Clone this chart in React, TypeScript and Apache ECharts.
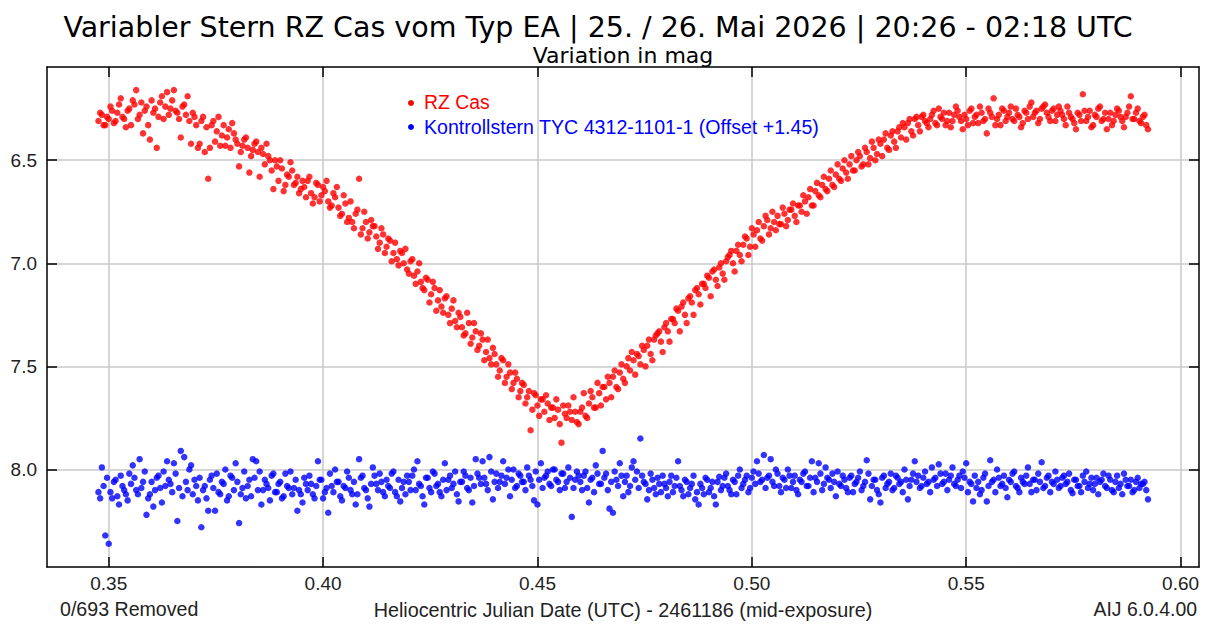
import React, { useEffect, useRef } from "react";
import * as echarts from "echarts";

// Heliocentric Julian Date (UTC) - 2461186, mid-exposure times (frames A)
const hjdA = [
  0.3476, 0.3484, 0.3492, 0.3500, 0.3508, 0.3516, 0.3524, 0.3532, 0.3540, 0.3548,
  0.3556, 0.3564, 0.3572, 0.3580, 0.3588, 0.3596, 0.3604, 0.3612, 0.3620, 0.3628,
  0.3636, 0.3644, 0.3652, 0.3660, 0.3668, 0.3676, 0.3684, 0.3692, 0.3700, 0.3708,
  0.3716, 0.3724, 0.3732, 0.3740, 0.3748, 0.3756, 0.3764, 0.3772, 0.3780, 0.3788,
  0.3796, 0.3804, 0.3812, 0.3820, 0.3828, 0.3836, 0.3844, 0.3852, 0.3860, 0.3868,
  0.3876, 0.3884, 0.3892, 0.3900, 0.3908, 0.3916, 0.3924, 0.3932, 0.3940, 0.3948,
  0.3956, 0.3964, 0.3972, 0.3980, 0.3988, 0.3996, 0.4004, 0.4012, 0.4020, 0.4028,
  0.4036, 0.4044, 0.4052, 0.4060, 0.4068, 0.4076, 0.4084, 0.4092, 0.4100, 0.4108,
  0.4116, 0.4124, 0.4132, 0.4140, 0.4148, 0.4156, 0.4164, 0.4172, 0.4180, 0.4188,
  0.4196, 0.4204, 0.4212, 0.4220, 0.4228, 0.4236, 0.4244, 0.4252, 0.4260, 0.4268,
  0.4276, 0.4284, 0.4292, 0.4300, 0.4308, 0.4316, 0.4324, 0.4332, 0.4340, 0.4348,
  0.4356, 0.4364, 0.4372, 0.4380, 0.4388, 0.4396, 0.4404, 0.4412, 0.4420, 0.4428,
  0.4436, 0.4444, 0.4452, 0.4460, 0.4468, 0.4476, 0.4484, 0.4492, 0.4500, 0.4508,
  0.4516, 0.4524, 0.4532, 0.4540, 0.4548, 0.4556, 0.4564, 0.4572, 0.4580, 0.4588,
  0.4596, 0.4604, 0.4612, 0.4620, 0.4628, 0.4636, 0.4644, 0.4652, 0.4660, 0.4668,
  0.4676, 0.4684, 0.4692, 0.4700, 0.4708, 0.4716, 0.4724, 0.4732, 0.4740, 0.4748,
  0.4756, 0.4764, 0.4772, 0.4780, 0.4788, 0.4796, 0.4804, 0.4812, 0.4820, 0.4828,
  0.4836, 0.4844, 0.4852, 0.4860, 0.4868, 0.4876, 0.4884, 0.4892, 0.4900, 0.4908,
  0.4916, 0.4924, 0.4932, 0.4940, 0.4948, 0.4956, 0.4964, 0.4972, 0.4980, 0.4988,
  0.4996, 0.5004, 0.5012, 0.5020, 0.5028, 0.5036, 0.5044, 0.5052, 0.5060, 0.5068,
  0.5076, 0.5084, 0.5092, 0.5100, 0.5108, 0.5116, 0.5124, 0.5132, 0.5140, 0.5148,
  0.5156, 0.5164, 0.5172, 0.5180, 0.5188, 0.5196, 0.5204, 0.5212, 0.5220, 0.5228,
  0.5236, 0.5244, 0.5252, 0.5260, 0.5268, 0.5276, 0.5284, 0.5292, 0.5300, 0.5308,
  0.5316, 0.5324, 0.5332, 0.5340, 0.5348, 0.5356, 0.5364, 0.5372, 0.5380, 0.5388,
  0.5396, 0.5404, 0.5412, 0.5420, 0.5428, 0.5436, 0.5444, 0.5452, 0.5460, 0.5468,
  0.5476, 0.5484, 0.5492, 0.5500, 0.5508, 0.5516, 0.5524, 0.5532, 0.5540, 0.5548,
  0.5556, 0.5564, 0.5572, 0.5580, 0.5588, 0.5596, 0.5604, 0.5612, 0.5620, 0.5628,
  0.5636, 0.5644, 0.5652, 0.5660, 0.5668, 0.5676, 0.5684, 0.5692, 0.5700, 0.5708,
  0.5716, 0.5724, 0.5732, 0.5740, 0.5748, 0.5756, 0.5764, 0.5772, 0.5780, 0.5788,
  0.5796, 0.5804, 0.5812, 0.5820, 0.5828, 0.5836, 0.5844, 0.5852, 0.5860, 0.5868,
  0.5876, 0.5884, 0.5892, 0.5900, 0.5908, 0.5916, 0.5924,
];

// RZ Cas magnitudes (frames A)
const rzCasA = [
  6.31, 6.28, 6.33, 6.30, 6.26, 6.31, 6.23, 6.29, 6.34, 6.25,
  6.21, 6.16, 6.28, 6.37, 6.24, 6.40, 6.27, 6.44, 6.22, 6.30,
  6.17, 6.25, 6.16, 6.27, 6.39, 6.23, 6.19, 6.42, 6.29, 6.44,
  6.31, 6.46, 6.59, 6.33, 6.41, 6.29, 6.38, 6.43, 6.35, 6.32,
  6.40, 6.53, 6.43, 6.39, 6.56, 6.45, 6.41, 6.58, 6.47, 6.42,
  6.50, 6.64, 6.53, 6.50, 6.65, 6.57, 6.51, 6.62, 6.58, 6.64,
  6.63, 6.60, 6.66, 6.68, 6.62, 6.67, 6.65, 6.70, 6.72, 6.68,
  6.73, 6.76, 6.71, 6.78, 6.80, 6.76, 6.59, 6.83, 6.80, 6.85,
  6.82, 6.87, 6.90, 6.86, 6.92, 6.89, 6.95, 6.98, 6.94, 7.00,
  7.03, 6.99, 7.06, 7.04, 7.09, 7.13, 7.08, 7.15, 7.12, 7.18,
  7.21, 7.17, 7.25, 7.22, 7.28, 7.24, 7.31, 7.34, 7.29, 7.36,
  7.33, 7.40, 7.37, 7.43, 7.46, 7.41, 7.49, 7.52, 7.47, 7.55,
  7.53, 7.58, 7.56, 7.62, 7.59, 7.65, 7.81, 7.63, 7.69, 7.66,
  7.72, 7.68, 7.70, 7.75, 7.71, 7.87, 7.73, 7.69, 7.76, 7.72,
  7.78, 7.70, 7.74, 7.68, 7.65, 7.70, 7.63, 7.60, 7.66, 7.58,
  7.55, 7.60, 7.53, 7.56, 7.50, 7.52, 7.47, 7.44, 7.49, 7.42,
  7.40, 7.44, 7.37, 7.34, 7.38, 7.31, 7.33, 7.27, 7.29, 7.23,
  7.21, 7.25, 7.17, 7.19, 7.13, 7.15, 7.10, 7.12, 7.07, 7.04,
  7.08, 7.02, 7.05, 6.99, 6.96, 7.00, 6.94, 6.96, 6.91, 6.88,
  6.92, 6.86, 6.84, 6.88, 6.82, 6.79, 6.83, 6.80, 6.77, 6.81,
  6.76, 6.79, 6.74, 6.77, 6.72, 6.75, 6.70, 6.68, 6.72, 6.65,
  6.67, 6.62, 6.64, 6.59, 6.62, 6.57, 6.59, 6.54, 6.56, 6.52,
  6.55, 6.50, 6.48, 6.52, 6.46, 6.49, 6.44, 6.47, 6.42, 6.40,
  6.44, 6.38, 6.41, 6.36, 6.39, 6.34, 6.32, 6.36, 6.30, 6.33,
  6.29, 6.31, 6.34, 6.28, 6.32, 6.25, 6.30, 6.33, 6.27, 6.31,
  6.24, 6.29, 6.35, 6.30, 6.26, 6.32, 6.28, 6.24, 6.31, 6.37,
  6.27, 6.20, 6.30, 6.33, 6.26, 6.29, 6.24, 6.31, 6.28, 6.34,
  6.26, 6.30, 6.22, 6.27, 6.32, 6.25, 6.23, 6.29, 6.26, 6.31,
  6.24, 6.28, 6.33, 6.27, 6.30, 6.35, 6.28, 6.18, 6.31, 6.26,
  6.33, 6.29, 6.24, 6.30, 6.35, 6.27, 6.31, 6.25, 6.29, 6.34,
  6.27, 6.19, 6.30, 6.25, 6.32, 6.28, 6.35,
];

// Check star TYC 4312-1101-1 magnitudes, offset +1.45 (frames A)
const checkStarA = [
  8.11, 7.99, 8.32, 8.36, 8.14, 8.05, 8.17, 8.08, 8.12, 8.02,
  7.98, 8.10, 7.95, 8.06, 8.22, 8.12, 8.18, 8.04, 8.09, 8.01,
  7.96, 8.07, 7.97, 8.25, 7.91, 7.94, 8.10, 7.98, 8.05, 8.15,
  8.28, 8.08, 8.20, 8.03, 8.20, 8.11, 8.06, 8.00, 8.13, 8.04,
  7.97, 8.26, 8.09, 8.14, 8.05, 7.95, 7.96, 8.01, 8.10, 8.07,
  8.15, 8.02, 8.11, 8.06, 8.13, 8.08, 8.01, 8.09, 8.20, 8.12,
  8.04, 8.10, 8.07, 8.14, 7.96, 8.05, 8.11, 8.21, 8.08, 8.00,
  8.06, 8.15, 8.09, 8.04, 8.12, 8.17, 7.95, 8.03, 8.10, 8.18,
  7.99, 8.07, 8.02, 8.11, 8.05, 8.09, 8.01, 8.13, 8.155, 8.06,
  8.03, 8.10, 8.00, 7.96, 8.08, 8.17, 8.04, 8.11, 8.02, 8.07,
  8.13, 7.97, 8.05, 8.09, 8.01, 8.155, 8.06, 8.03, 8.10, 8.16,
  7.95, 8.04, 7.96, 8.07, 7.94, 8.145, 8.02, 8.06, 7.96, 8.04,
  8.13, 8.00, 8.08, 8.03, 8.06, 7.99, 8.05, 8.15, 8.17, 7.97,
  8.04, 8.01, 8.08, 8.00, 8.06, 8.02, 8.09, 7.99, 8.23, 8.05,
  8.03, 8.10, 8.01, 8.16, 8.04, 7.98, 8.07, 7.91, 8.02, 8.19,
  8.21, 8.05, 7.97, 8.13, 8.03, 8.08, 7.96, 8.01, 7.85, 8.06,
  8.145, 8.02, 8.09, 8.04, 8.11, 8.07, 8.13, 8.03, 8.08, 7.96,
  8.10, 8.05, 8.12, 8.07, 8.145, 8.17, 8.09, 8.04, 8.11, 8.06,
  8.17, 8.035, 8.08, 8.02, 8.10, 8.05, 8.12, 8.00, 8.07, 8.03,
  8.09, 8.01, 7.96, 8.06, 7.93, 8.04, 7.95, 8.08, 8.02, 8.11,
  8.05, 8.00, 8.09, 8.03, 8.12, 8.06, 8.01, 8.08, 7.96, 8.04,
  7.97, 8.10, 7.99, 8.05, 8.02, 8.13, 8.07, 8.03, 8.09, 8.04,
  8.11, 8.06, 8.01, 8.08, 7.955, 8.145, 8.05, 8.10, 8.16, 8.03,
  8.07, 8.02, 8.09, 8.04, 8.06, 8.00, 8.145, 8.05, 7.96, 8.03,
  8.08, 8.01, 8.06, 7.99, 8.04, 7.975, 8.07, 8.02, 8.05, 7.99,
  8.08, 8.03, 8.01, 7.97, 8.06, 8.155, 8.09, 8.12, 8.04, 8.155,
  7.955, 8.05, 8.00, 8.08, 8.03, 8.135, 8.06, 8.01, 8.09, 8.04,
  8.07, 7.99, 8.11, 8.05, 8.02, 7.965, 8.08, 8.03, 8.06, 8.01,
  8.09, 8.04, 8.07, 8.02, 8.115, 8.05, 8.08, 8.03, 8.01, 8.07,
  8.10, 8.04, 8.06, 8.02, 8.09, 8.05, 8.11, 8.03, 8.07, 8.02,
  8.08, 8.05, 8.10, 8.04, 8.07, 8.06, 8.145,
];

// Mid-exposure times (frames B, interleaved with frames A)
const hjdB = [
  0.3480, 0.3488, 0.3496, 0.3504, 0.3512, 0.3520, 0.3528, 0.3536, 0.3544, 0.3552,
  0.3560, 0.3568, 0.3576, 0.3584, 0.3592, 0.3600, 0.3608, 0.3616, 0.3624, 0.3632,
  0.3640, 0.3648, 0.3656, 0.3664, 0.3672, 0.3680, 0.3688, 0.3696, 0.3704, 0.3712,
  0.3720, 0.3728, 0.3736, 0.3744, 0.3752, 0.3760, 0.3768, 0.3776, 0.3784, 0.3792,
  0.3800, 0.3808, 0.3816, 0.3824, 0.3832, 0.3840, 0.3848, 0.3856, 0.3864, 0.3872,
  0.3880, 0.3888, 0.3896, 0.3904, 0.3912, 0.3920, 0.3928, 0.3936, 0.3944, 0.3952,
  0.3960, 0.3968, 0.3976, 0.3984, 0.3992, 0.4000, 0.4008, 0.4016, 0.4024, 0.4032,
  0.4040, 0.4048, 0.4056, 0.4064, 0.4072, 0.4080, 0.4088, 0.4096, 0.4104, 0.4112,
  0.4120, 0.4128, 0.4136, 0.4144, 0.4152, 0.4160, 0.4168, 0.4176, 0.4184, 0.4192,
  0.4200, 0.4208, 0.4216, 0.4224, 0.4232, 0.4240, 0.4248, 0.4256, 0.4264, 0.4272,
  0.4280, 0.4288, 0.4296, 0.4304, 0.4312, 0.4320, 0.4328, 0.4336, 0.4344, 0.4352,
  0.4360, 0.4368, 0.4376, 0.4384, 0.4392, 0.4400, 0.4408, 0.4416, 0.4424, 0.4432,
  0.4440, 0.4448, 0.4456, 0.4464, 0.4472, 0.4480, 0.4488, 0.4496, 0.4504, 0.4512,
  0.4520, 0.4528, 0.4536, 0.4544, 0.4552, 0.4560, 0.4568, 0.4576, 0.4584, 0.4592,
  0.4600, 0.4608, 0.4616, 0.4624, 0.4632, 0.4640, 0.4648, 0.4656, 0.4664, 0.4672,
  0.4680, 0.4688, 0.4696, 0.4704, 0.4712, 0.4720, 0.4728, 0.4736, 0.4744, 0.4752,
  0.4760, 0.4768, 0.4776, 0.4784, 0.4792, 0.4800, 0.4808, 0.4816, 0.4824, 0.4832,
  0.4840, 0.4848, 0.4856, 0.4864, 0.4872, 0.4880, 0.4888, 0.4896, 0.4904, 0.4912,
  0.4920, 0.4928, 0.4936, 0.4944, 0.4952, 0.4960, 0.4968, 0.4976, 0.4984, 0.4992,
  0.5000, 0.5008, 0.5016, 0.5024, 0.5032, 0.5040, 0.5048, 0.5056, 0.5064, 0.5072,
  0.5080, 0.5088, 0.5096, 0.5104, 0.5112, 0.5120, 0.5128, 0.5136, 0.5144, 0.5152,
  0.5160, 0.5168, 0.5176, 0.5184, 0.5192, 0.5200, 0.5208, 0.5216, 0.5224, 0.5232,
  0.5240, 0.5248, 0.5256, 0.5264, 0.5272, 0.5280, 0.5288, 0.5296, 0.5304, 0.5312,
  0.5320, 0.5328, 0.5336, 0.5344, 0.5352, 0.5360, 0.5368, 0.5376, 0.5384, 0.5392,
  0.5400, 0.5408, 0.5416, 0.5424, 0.5432, 0.5440, 0.5448, 0.5456, 0.5464, 0.5472,
  0.5480, 0.5488, 0.5496, 0.5504, 0.5512, 0.5520, 0.5528, 0.5536, 0.5544, 0.5552,
  0.5560, 0.5568, 0.5576, 0.5584, 0.5592, 0.5600, 0.5608, 0.5616, 0.5624, 0.5632,
  0.5640, 0.5648, 0.5656, 0.5664, 0.5672, 0.5680, 0.5688, 0.5696, 0.5704, 0.5712,
  0.5720, 0.5728, 0.5736, 0.5744, 0.5752, 0.5760, 0.5768, 0.5776, 0.5784, 0.5792,
  0.5800, 0.5808, 0.5816, 0.5824, 0.5832, 0.5840, 0.5848, 0.5856, 0.5864, 0.5872,
  0.5880, 0.5888, 0.5896, 0.5904, 0.5912, 0.5920,
];

// RZ Cas magnitudes (frames B)
const rzCasB = [
  6.27, 6.33, 6.29, 6.24, 6.32, 6.27, 6.20, 6.30, 6.26, 6.33,
  6.23, 6.30, 6.22, 6.26, 6.33, 6.21, 6.25, 6.29, 6.19, 6.24,
  6.28, 6.21, 6.26, 6.30, 6.24, 6.28, 6.31, 6.27, 6.33, 6.42,
  6.29, 6.34, 6.44, 6.31, 6.36, 6.43, 6.33, 6.39, 6.44, 6.37,
  6.42, 6.46, 6.40, 6.44, 6.48, 6.42, 6.46, 6.44, 6.52, 6.48,
  6.55, 6.50, 6.60, 6.54, 6.62, 6.58, 6.55, 6.61, 6.66, 6.60,
  6.68, 6.58, 6.71, 6.61, 6.70, 6.63, 6.60, 6.73, 6.66, 6.63,
  6.77, 6.67, 6.80, 6.70, 6.83, 6.74, 6.86, 6.75, 6.88, 6.79,
  6.82, 6.93, 6.83, 6.95, 6.88, 6.99, 6.90, 7.01, 6.95, 6.93,
  7.05, 6.98, 7.10, 7.00, 7.12, 7.07, 7.19, 7.09, 7.23, 7.13,
  7.24, 7.16, 7.29, 7.18, 7.31, 7.26, 7.35, 7.24, 7.39, 7.29,
  7.42, 7.34, 7.47, 7.37, 7.49, 7.44, 7.55, 7.46, 7.58, 7.49,
  7.61, 7.53, 7.65, 7.58, 7.68, 7.62, 7.71, 7.64, 7.74, 7.66,
  7.64, 7.76, 7.70, 7.66, 7.78, 7.69, 7.75, 7.72, 7.65, 7.77,
  7.72, 7.63, 7.75, 7.62, 7.70, 7.58, 7.69, 7.60, 7.55, 7.65,
  7.52, 7.61, 7.49, 7.58, 7.46, 7.43, 7.54, 7.45, 7.40, 7.50,
  7.37, 7.47, 7.35, 7.33, 7.43, 7.29, 7.38, 7.27, 7.22, 7.33,
  7.19, 7.29, 7.16, 7.25, 7.12, 7.20, 7.10, 7.06, 7.16, 7.03,
  7.11, 7.00, 7.08, 6.97, 6.94, 7.04, 6.91, 6.99, 6.87, 6.96,
  6.83, 6.92, 6.80, 6.89, 6.77, 6.86, 6.75, 6.84, 6.81, 6.73,
  6.82, 6.74, 6.71, 6.80, 6.72, 6.67, 6.76, 6.64, 6.72, 6.61,
  6.68, 6.58, 6.65, 6.55, 6.63, 6.52, 6.60, 6.50, 6.59, 6.48,
  6.55, 6.46, 6.53, 6.44, 6.52, 6.41, 6.50, 6.40, 6.48, 6.37,
  6.45, 6.36, 6.44, 6.34, 6.32, 6.40, 6.30, 6.38, 6.29, 6.36,
  6.28, 6.32, 6.30, 6.26, 6.33, 6.29, 6.27, 6.31, 6.34, 6.28,
  6.26, 6.31, 6.28, 6.33, 6.25, 6.29, 6.32, 6.27, 6.30, 6.25,
  6.29, 6.33, 6.28, 6.25, 6.31, 6.27, 6.30, 6.25, 6.29, 6.32,
  6.27, 6.24, 6.29, 6.26, 6.30, 6.24, 6.27, 6.31, 6.25, 6.28,
  6.26, 6.30, 6.24, 6.29, 6.32, 6.27, 6.31, 6.26, 6.29, 6.34,
  6.28, 6.25, 6.31, 6.27, 6.30, 6.33, 6.28, 6.26, 6.31, 6.29,
  6.24, 6.30, 6.27, 6.31, 6.29, 6.33,
];

// Check star magnitudes, offset +1.45 (frames B)
const checkStarB = [
  8.14, 8.08, 8.04, 8.11, 8.06, 8.13, 8.03, 8.10, 8.15, 8.07,
  8.04, 8.12, 8.09, 8.01, 8.14, 8.06, 8.10, 8.03, 8.16, 8.08,
  8.05, 8.11, 8.02, 8.09, 8.13, 8.06, 8.00, 8.12, 8.08, 8.04,
  8.10, 8.14, 8.05, 8.09, 8.02, 8.12, 8.07, 8.15, 8.03, 8.10,
  8.06, 8.12, 8.01, 8.08, 8.13, 8.04, 8.10, 8.17, 8.05, 8.09,
  8.03, 8.11, 8.07, 8.14, 8.02, 8.09, 8.12, 8.05, 8.10, 8.16,
  8.07, 8.03, 8.12, 8.08, 8.05, 8.14, 8.09, 8.02, 8.11, 8.06,
  8.13, 8.08, 8.01, 8.10, 8.06, 8.12, 8.04, 8.09, 8.14, 8.07,
  8.03, 8.10, 8.06, 8.13, 8.08, 8.02, 8.11, 8.05, 8.09, 8.12,
  8.06, 8.03, 8.10, 8.07, 8.13, 8.04, 8.09, 8.01, 8.08, 8.11,
  8.05, 8.10, 8.03, 8.07, 8.12, 8.06, 8.01, 8.09, 8.04, 8.08,
  8.02, 8.07, 8.04, 8.10, 8.01, 8.06, 8.09, 8.03, 8.07, 8.00,
  8.05, 8.09, 8.02, 8.06, 8.10, 8.03, 8.08, 8.01, 8.05, 8.09,
  8.03, 8.07, 8.00, 8.05, 8.10, 8.02, 8.06, 8.04, 8.09, 8.01,
  8.06, 8.03, 8.09, 8.05, 8.11, 8.02, 8.07, 8.04, 8.10, 8.06,
  8.01, 8.08, 8.03, 8.06, 8.11, 7.99, 8.05, 8.09, 8.03, 8.07,
  8.10, 8.05, 8.12, 8.07, 8.03, 8.09, 8.06, 8.11, 8.04, 8.08,
  8.13, 8.06, 8.09, 8.03, 8.11, 8.07, 8.12, 8.05, 8.09, 8.13,
  8.06, 8.10, 8.04, 8.08, 8.12, 8.06, 8.03, 8.09, 8.05, 8.11,
  8.04, 8.07, 8.02, 8.05, 8.09, 8.03, 8.06, 8.00, 8.08, 8.04,
  8.09, 8.03, 8.06, 8.10, 8.05, 8.02, 8.08, 8.04, 8.11, 8.06,
  8.02, 8.07, 8.04, 8.09, 8.06, 8.01, 8.08, 8.05, 8.11, 8.03,
  8.07, 8.04, 8.10, 8.06, 8.02, 8.08, 8.05, 8.12, 8.04, 8.09,
  8.06, 8.10, 8.03, 8.07, 8.11, 8.05, 8.08, 8.02, 8.06, 8.09,
  8.04, 8.07, 8.11, 8.05, 8.08, 8.02, 8.06, 8.10, 8.03, 8.07,
  8.05, 8.09, 8.04, 8.11, 8.07, 8.03, 8.06, 8.10, 8.02, 8.08,
  8.06, 8.11, 8.04, 8.07, 8.09, 8.05, 8.02, 8.08, 8.11, 8.06,
  8.03, 8.07, 8.05, 8.10, 8.06, 8.09, 8.04, 8.11, 8.07, 8.05,
  8.08, 8.03, 8.06, 8.10, 8.05, 8.08, 8.11, 8.06, 8.09, 8.04,
  8.07, 8.12, 8.05, 8.08, 8.03, 8.10, 8.06, 8.09, 8.12, 8.05,
  8.08, 8.11, 8.06, 8.09, 8.07, 8.10,
];

const xTicks = [0.35, 0.4, 0.45, 0.5, 0.55, 0.6];
const yTicks = [6.5, 7.0, 7.5, 8.0];

const X_MIN = 0.3356;
const X_MAX = 0.6043;
const Y_MIN = 6.048;
const Y_MAX = 8.473;

const TITLE = "Variabler Stern RZ Cas vom Typ EA | 25. / 26. Mai 2026 | 20:26 - 02:18 UTC";
const Y_NAME = "Variation in mag";
const RZ_NAME = "RZ Cas";
const CHECK_NAME = "Kontrollstern TYC 4312-1101-1 (Offset +1.45)";
const X_NAME = "Heliocentric Julian Date (UTC) - 2461186 (mid-exposure)";
const LEFT_NOTE = "0/693 Removed";
const RIGHT_NOTE = "AIJ 6.0.4.00";

const RED = "#ff0000";
const BLUE = "#0000ff";

export default function App() {
  const ref = useRef<HTMLDivElement>(null);

  useEffect(() => {
    if (!ref.current) return;
    const chart = echarts.init(ref.current, null, { renderer: "svg" });
    const sans = "'Liberation Sans', Arial, Helvetica, sans-serif";
    const titleFont = "'DejaVu Sans', 'Lucida Grande', sans-serif";
    const frame = { show: true, onZero: false, lineStyle: { color: "#000", width: 1.5 } };
    const tick = (vals: number[]) => ({
      show: true,
      inside: true,
      length: 10,
      customValues: vals,
      lineStyle: { color: "#000", width: 1.5 },
    });
    const grid = { show: true, lineStyle: { color: "#c8c8c8", width: 1.5 } };
    const textEl = (text: string, x: number, y: number, font: string, fill: string, align: string) => ({
      type: "text",
      x,
      y,
      silent: true,
      style: {
        text,
        font,
        fill,
        align,
        textAlign: align,
        verticalAlign: "middle",
        textVerticalAlign: "middle",
      },
    });
    const pairs = (t: number[], m: number[]) => t.map((v, i) => [v, m[i]]);

    chart.setOption({
      animation: false,
      backgroundColor: "#ffffff",
      grid: { left: 47, right: 9, top: 67, bottom: 56 },
      xAxis: [
        {
          type: "value",
          position: "bottom",
          min: X_MIN,
          max: X_MAX,
          axisLine: frame,
          axisTick: tick(xTicks),
          axisLabel: {
            customValues: xTicks,
            formatter: (v: number) => v.toFixed(2),
            margin: 7,
            fontSize: 19,
            fontFamily: sans,
            color: "#222",
          },
          splitLine: grid,
          name: X_NAME,
          nameLocation: "middle",
          nameGap: 33,
          nameTextStyle: { fontSize: 19.8, fontFamily: sans, color: "#222" },
        },
        {
          type: "value",
          position: "top",
          min: X_MIN,
          max: X_MAX,
          axisLine: frame,
          axisTick: tick(xTicks),
          axisLabel: { show: false },
          splitLine: { show: false },
        },
      ],
      yAxis: [
        {
          type: "value",
          position: "left",
          inverse: true,
          min: Y_MIN,
          max: Y_MAX,
          axisLine: frame,
          axisTick: tick(yTicks),
          axisLabel: {
            customValues: yTicks,
            formatter: (v: number) => v.toFixed(1),
            margin: 10,
            fontSize: 19,
            fontFamily: sans,
            color: "#222",
          },
          splitLine: grid,
        },
        {
          type: "value",
          position: "right",
          inverse: true,
          min: Y_MIN,
          max: Y_MAX,
          axisLine: frame,
          axisTick: tick(yTicks),
          axisLabel: { show: false },
          splitLine: { show: false },
        },
      ],
      series: [
        {
          type: "scatter",
          name: RZ_NAME,
          xAxisIndex: 0,
          yAxisIndex: 0,
          symbol: "circle",
          symbolSize: 6.5,
          itemStyle: { color: RED },
          data: pairs(hjdA, rzCasA).concat(pairs(hjdB, rzCasB)),
        },
        {
          type: "scatter",
          name: CHECK_NAME,
          xAxisIndex: 0,
          yAxisIndex: 0,
          symbol: "circle",
          symbolSize: 6.5,
          itemStyle: { color: BLUE },
          data: pairs(hjdA, checkStarA).concat(pairs(hjdB, checkStarB)),
        },
      ],
      graphic: [
        textEl(TITLE, 598, 27, `28.5px ${titleFont}`, "#000", "center"),
        textEl(Y_NAME, 623, 55, `22px ${titleFont}`, "#000", "center"),
        { type: "circle", silent: true, shape: { cx: 411, cy: 103, r: 3 }, style: { fill: RED } },
        textEl(RZ_NAME, 424, 102, `19.4px ${sans}`, RED, "left"),
        { type: "circle", silent: true, shape: { cx: 411, cy: 127, r: 3 }, style: { fill: BLUE } },
        textEl(CHECK_NAME, 424, 127, `19.6px ${sans}`, BLUE, "left"),
        textEl(LEFT_NOTE, 60, 609, `19.6px ${sans}`, "#222", "left"),
        textEl(RIGHT_NOTE, 1197, 609, `19.4px ${sans}`, "#222", "right"),
      ],
    });

    return () => chart.dispose();
  }, []);

  return (
    <div
      ref={ref}
      style={{ position: "absolute", left: 0, top: 0, width: 1208, height: 625, background: "#fff" }}
    />
  );
}
